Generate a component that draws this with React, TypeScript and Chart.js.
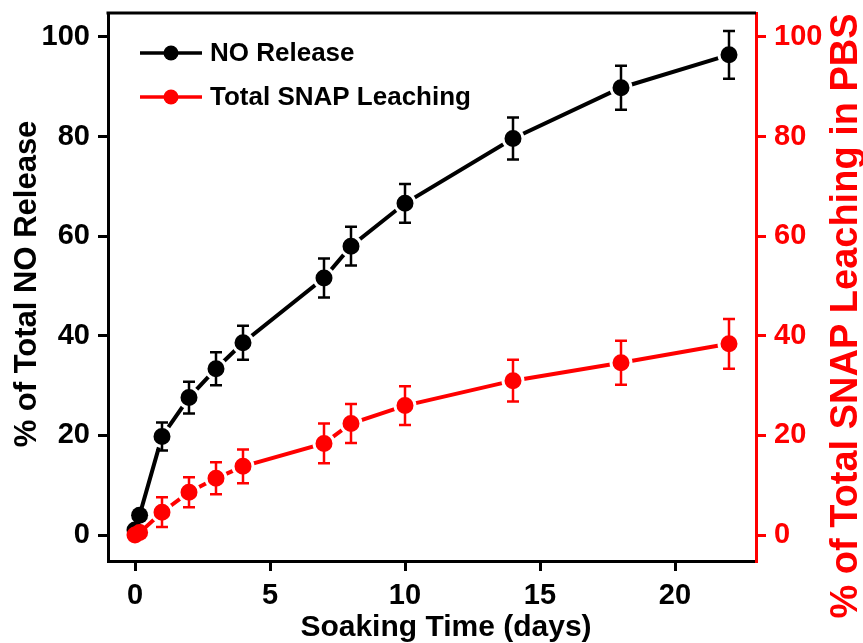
import React, { useEffect, useRef } from "react";
import { Chart, registerables } from "chart.js";

Chart.register(...registerables);

// ---- data ----
const NO_X = [0, 0.17, 1, 2, 3, 4, 7, 8, 10, 14, 18, 22];
const NO_Y = [1, 4, 19.8, 27.6, 33.4, 38.6, 51.6, 58, 66.6, 79.6, 89.8, 96.4];
const NO_ERR = [0, 1, 2.8, 3.2, 3.3, 3.4, 3.9, 3.9, 3.9, 4.2, 4.4, 4.8];

const SNAP_X = [0, 0.17, 1, 2, 3, 4, 7, 8, 10, 14, 18, 22];
const SNAP_Y = [0, 0.5, 4.6, 8.6, 11.4, 13.8, 18.4, 22.4, 26, 31, 34.6, 38.4];
const SNAP_ERR = [0, 0.5, 3, 3, 3.2, 3.4, 4, 3.9, 3.9, 4.2, 4.4, 5];

const X_TICKS = [0, 5, 10, 15, 20];
const Y_TICKS = [0, 20, 40, 60, 80, 100];

const LEGEND_LABELS = ["NO Release", "Total SNAP Leaching"];
const X_TITLE = "Soaking Time (days)";
const Y_TITLE = "% of Total NO Release";
const Y1_TITLE = "% of Total SNAP Leaching in PBS";

const FONT = '"Liberation Sans", Arial, sans-serif';
const RED = "#ff0000";
const BLACK = "#000000";

const errorBars = {
  id: "errorBars",
  afterDatasetsDraw(chart: any) {
    const ctx = chart.ctx;
    chart.data.datasets.forEach((ds: any, i: number) => {
      const meta = chart.getDatasetMeta(i);
      const yScale = chart.scales[ds.yAxisID];
      meta.data.forEach((pt: any, j: number) => {
        const v = ds.data[j].y;
        const e = ds.errors[j];
        if (!e || e < 1.5) return;
        const yt = yScale.getPixelForValue(v + e);
        const yb = yScale.getPixelForValue(v - e);
        ctx.save();
        ctx.strokeStyle = ds.borderColor;
        ctx.lineWidth = 2.5;
        ctx.beginPath();
        ctx.moveTo(pt.x, yt);
        ctx.lineTo(pt.x, yb);
        ctx.moveTo(pt.x - 6, yt);
        ctx.lineTo(pt.x + 6, yt);
        ctx.moveTo(pt.x - 6, yb);
        ctx.lineTo(pt.x + 6, yb);
        ctx.stroke();
        ctx.restore();
      });
    });
  },
};

const decorations = {
  id: "decorations",
  afterDraw(chart: any) {
    const ctx = chart.ctx;
    const a = chart.chartArea;
    ctx.save();
    // top border
    ctx.strokeStyle = BLACK;
    ctx.lineWidth = 3;
    ctx.beginPath();
    ctx.moveTo(a.left - 1.5, a.top);
    ctx.lineTo(a.right, a.top);
    ctx.stroke();

    // legend
    const colors = [BLACK, RED];
    const rows = [53, 97];
    LEGEND_LABELS.forEach((lab, i) => {
      const y = rows[i];
      ctx.strokeStyle = colors[i];
      ctx.fillStyle = colors[i];
      ctx.lineWidth = 3.5;
      ctx.beginPath();
      ctx.moveTo(140, y);
      ctx.lineTo(202, y);
      ctx.stroke();
      ctx.beginPath();
      ctx.arc(171, y, 7.5, 0, Math.PI * 2);
      ctx.fill();
      ctx.fillStyle = BLACK;
      ctx.font = `bold 26px ${FONT}`;
      ctx.textAlign = "left";
      ctx.textBaseline = "middle";
      ctx.fillText(lab, 210, y + 1);
    });

    // axis titles
    ctx.fillStyle = BLACK;
    ctx.font = `bold 30px ${FONT}`;
    ctx.textAlign = "center";
    ctx.textBaseline = "alphabetic";
    ctx.fillText(X_TITLE, 446, 636);

    ctx.save();
    ctx.translate(27, 284);
    ctx.rotate(-Math.PI / 2);
    ctx.font = `bold 31px ${FONT}`;
    ctx.textBaseline = "middle";
    ctx.fillText(Y_TITLE, 0, 0);
    ctx.restore();

    ctx.save();
    ctx.translate(847, 316);
    ctx.rotate(-Math.PI / 2);
    ctx.fillStyle = RED;
    ctx.font = `bold 38px ${FONT}`;
    ctx.textBaseline = "middle";
    ctx.fillText(Y1_TITLE, 0, 0);
    ctx.restore();

    ctx.restore();
  },
};

function axisCommon(color: string) {
  return {
    grid: {
      drawOnChartArea: false,
      drawTicks: true,
      tickLength: 10,
      tickWidth: 3,
      tickColor: color,
      color: color,
      lineWidth: 3,
    },
    border: { display: true, color: color, width: 3 },
    ticks: {
      color: color,
      font: { family: FONT, size: 29, weight: "bold" as const },
      padding: 8,
    },
  };
}

function zeroPad(s: any) {
  s.paddingTop = 0;
  s.paddingBottom = 0;
  s.paddingLeft = 0;
  s.paddingRight = 0;
}

export default function App() {
  const ref = useRef<HTMLCanvasElement | null>(null);

  useEffect(() => {
    if (!ref.current) return;
    const pointStyleFor = (color: string, n: number) => ({
      borderColor: color,
      backgroundColor: color,
      borderWidth: 4,
      // first two (overlapping) points are drawn solid, the rest with a gap ring
      pointRadius: Array.from({ length: n }, (_, i) => (i < 2 ? 8.5 : 10)),
      pointBorderWidth: Array.from({ length: n }, (_, i) => (i < 2 ? 0 : 3)),
      pointBorderColor: "#ffffff",
      pointBackgroundColor: color,
    });
    const chart = new Chart(ref.current, {
      type: "line",
      data: {
        datasets: [
          {
            label: LEGEND_LABELS[0],
            data: NO_X.map((x, i) => ({ x, y: NO_Y[i] })),
            ...pointStyleFor(BLACK, NO_X.length),
            yAxisID: "y",
            xAxisID: "x",
            order: 1,
            errors: NO_ERR,
          } as any,
          {
            label: LEGEND_LABELS[1],
            data: SNAP_X.map((x, i) => ({ x, y: SNAP_Y[i] })),
            ...pointStyleFor(RED, SNAP_X.length),
            yAxisID: "y1",
            xAxisID: "x",
            order: 0,
            errors: SNAP_ERR,
          } as any,
        ],
      },
      options: {
        animation: false,
        responsive: true,
        maintainAspectRatio: false,
        layout: { padding: { top: 11, left: 0, right: 0, bottom: 0 } },
        plugins: {
          legend: { display: false },
          tooltip: { enabled: false },
          title: { display: false },
        },
        scales: {
          x: {
            type: "linear",
            position: "bottom",
            min: -1,
            max: 23,
            ...axisCommon(BLACK),
            afterBuildTicks: (s: any) => {
              s.ticks = X_TICKS.map((v) => ({ value: v }));
            },
            afterFit: (s: any) => {
              s.height = 82;
              zeroPad(s);
            },
          } as any,
          y: {
            type: "linear",
            position: "left",
            min: -5.2,
            max: 104.8,
            ...axisCommon(BLACK),
            afterBuildTicks: (s: any) => {
              s.ticks = Y_TICKS.map((v) => ({ value: v }));
            },
            afterFit: (s: any) => {
              s.width = 108;
              zeroPad(s);
            },
          } as any,
          y1: {
            type: "linear",
            position: "right",
            min: -5.2,
            max: 104.8,
            ...axisCommon(RED),
            afterBuildTicks: (s: any) => {
              s.ticks = Y_TICKS.map((v) => ({ value: v }));
            },
            afterFit: (s: any) => {
              s.width = 107;
              zeroPad(s);
            },
          } as any,
        },
      },
      plugins: [errorBars, decorations],
    });
    return () => chart.destroy();
  }, []);

  return (
    <div
      style={{
        position: "absolute",
        left: 0,
        top: 0,
        width: 863,
        height: 643,
        background: "#ffffff",
      }}
    >
      <canvas ref={ref} />
    </div>
  );
}
